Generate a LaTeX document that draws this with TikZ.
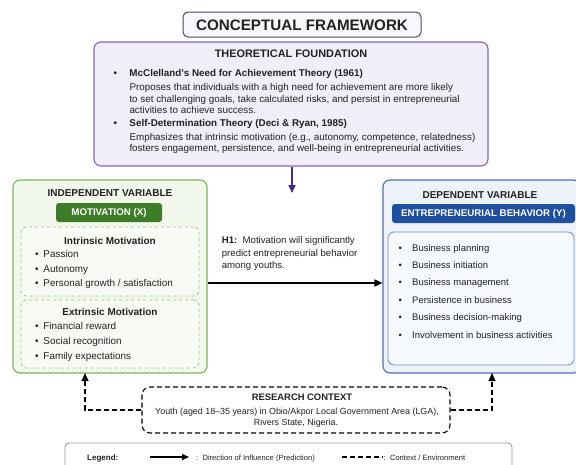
\documentclass[tikz,border=0pt]{standalone}
\usepackage{fontspec}
\setmainfont{Liberation Sans}
\usetikzlibrary{arrows.meta}
\definecolor{purpB}{HTML}{8466BE}
\definecolor{purpF}{HTML}{F1EDF9}
\definecolor{purpA}{HTML}{4A2B8C}
\definecolor{titleB}{HTML}{4A4A66}
\definecolor{titleF}{HTML}{F8F7FC}
\definecolor{grnB}{HTML}{7CB35B}
\definecolor{grnF}{HTML}{F2F8EC}
\definecolor{grnD}{HTML}{3D7D28}
\definecolor{grnI}{HTML}{9CC682}
\definecolor{grnIF}{HTML}{F8FBF5}
\definecolor{bluB}{HTML}{4A6FBF}
\definecolor{bluF}{HTML}{EEF3FB}
\definecolor{bluD}{HTML}{1F4F9F}
\definecolor{bluI}{HTML}{6A8CCF}
\definecolor{bluIF}{HTML}{F6F9FE}
\definecolor{txt}{HTML}{222222}
\tikzset{
  box/.style={draw, rounded corners=7pt, line width=1.1pt, inner sep=0pt},
  tagbox/.style={rounded corners=3pt, inner sep=0pt, text=white, font=\fontsize{9.7}{10}\selectfont\bfseries},
  hdr/.style={font=\fontsize{10}{10}\selectfont\bfseries, text=txt, inner sep=0pt},
  line/.style={anchor=base west, inner sep=0pt, text=txt, font=\fontsize{9.85}{10}\selectfont},
  bline/.style={line, font=\fontsize{9.85}{10}\selectfont\bfseries},
  lline/.style={line, font=\fontsize{9.9}{10}\selectfont},
  rline/.style={line, font=\fontsize{9.5}{10}\selectfont},
  ctx/.style={draw=black, line width=1.1pt, dash pattern=on 5pt off 3pt},
  tip/.style={-{Triangle[length=8pt,width=7pt]}},
}
\newcommand{\bl}[2]{\makebox[#1][l]{\textbullet}#2}
\begin{document}
\begin{tikzpicture}[x=1pt,y=-1pt]
\useasboundingbox (0,0) rectangle (576,464);
\clip (0,0) rectangle (576,464);
\fill[white] (0,0) rectangle (576,464);

% title
\node[box, draw=titleB, fill=titleF, rounded corners=5pt, line width=1pt, minimum width=238pt, minimum height=25pt] (title) at (302,24.5) {};
\node[font=\fontsize{15.2}{15}\selectfont\bfseries, text=txt, inner sep=0pt] (titletxt) at (302,25) {CONCEPTUAL FRAMEWORK};

% theory
\node[box, draw=purpB, fill=purpF, minimum width=394pt, minimum height=124pt] (theory) at (291,104) {};
\node[font=\fontsize{10.9}{11}\selectfont\bfseries, text=txt, inner sep=0pt] (thtitle) at (291,53.5) {THEORETICAL FOUNDATION};
\node[bline] (th1) at (113.5,76.5) {\bl{15.8pt}{McClelland's Need for Achievement Theory (1961)}};
\node[line] (th1a) at (129.3,90.5) {Proposes that individuals with a high need for achievement are more likely};
\node[line] (th1b) at (129.3,102) {to set challenging goals, take calculated risks, and persist in entrepreneurial};
\node[line] (th1c) at (129.3,113.3) {activities to achieve success.};
\node[bline] (th2) at (113.5,126.5) {\bl{15.8pt}{Self-Determination Theory (Deci \& Ryan, 1985)}};
\node[line] (th2a) at (129.3,140) {Emphasizes that intrinsic motivation (e.g., autonomy, competence, relatedness)};
\node[line] (th2b) at (129.3,151.3) {fosters engagement, persistence, and well-being in entrepreneurial activities.};
\coordinate (thend) at (292,193);
\draw[tip, draw=purpA, line width=1.6pt] (theory.south -| thend) -- (thend);

% independent variable
\node[box, draw=grnB, fill=grnF, minimum width=194pt, minimum height=193pt] (left) at (110,276.5) {};
\node[hdr] (ivh) at (110,193) {INDEPENDENT VARIABLE};
\node[tagbox, fill=grnD, minimum width=106pt, minimum height=19pt] (mot) at (109,212.5) {MOTIVATION (X)};
\node[draw=grnI, fill=grnIF, dashed, rounded corners=5pt, line width=0.8pt, minimum width=178pt, minimum height=69pt, inner sep=0pt] (intr) at (110,261.5) {};
\node[hdr] (intrh) at (110,240.5) {Intrinsic Motivation};
\node[lline] (i1) at (35,257.3) {\bl{8.3pt}{Passion}};
\node[lline] (i2) at (35,272) {\bl{8.3pt}{Autonomy}};
\node[lline] (i3) at (35,286.3) {\bl{8.3pt}{Personal growth / satisfaction}};
\node[draw=grnI, fill=grnIF, dashed, rounded corners=5pt, line width=0.8pt, minimum width=178pt, minimum height=68pt, inner sep=0pt] (extr) at (110,334) {};
\node[hdr] (extrh) at (110,312) {Extrinsic Motivation};
\node[lline] (e1) at (35,329) {\bl{8.3pt}{Financial reward}};
\node[lline] (e2) at (35,344.7) {\bl{8.3pt}{Social recognition}};
\node[lline] (e3) at (35,359) {\bl{8.3pt}{Family expectations}};

% dependent variable
\node[box, draw=bluB, fill=bluF, minimum width=197pt, minimum height=193pt] (right) at (481.5,276.5) {};
\node[hdr] (dvh) at (480,195) {DEPENDENT VARIABLE};
\node[tagbox, fill=bluD, minimum width=183pt, minimum height=19pt] (eb) at (483.5,213.5) {ENTREPRENEURIAL BEHAVIOR (Y)};
\node[draw=bluI, fill=bluIF, rounded corners=6pt, line width=0.8pt, minimum width=186pt, minimum height=133pt, inner sep=0pt] (dvin) at (481,298.5) {};
\node[rline] (d1) at (398.4,251.3) {\bl{13.6pt}{Business planning}};
\node[rline] (d2) at (398.4,268.7) {\bl{13.6pt}{Business initiation}};
\node[rline] (d3) at (398.4,285.7) {\bl{13.6pt}{Business management}};
\node[rline] (d4) at (398.4,303) {\bl{13.6pt}{Persistence in business}};
\node[rline] (d5) at (398.4,320.7) {\bl{13.6pt}{Business decision-making}};
\node[rline] (d6) at (398.4,338) {\bl{13.6pt}{Involvement in business activities}};

% hypothesis
\node[rline, font=\fontsize{9.6}{10}\selectfont] (h1a) at (221.7,243) {\textbf{H1:}\ \ Motivation will significantly};
\node[rline, font=\fontsize{9.6}{10}\selectfont] (h1b) at (221.7,256.3) {predict entrepreneurial behavior};
\node[rline, font=\fontsize{9.6}{10}\selectfont] (h1c) at (221.7,268) {among youths.};
\coordinate (h1y) at (0,283);
\draw[tip, line width=1.5pt] (left.east |- h1y) -- (right.west |- h1y);

% research context
\node[ctx, fill=white, rounded corners=8pt, minimum width=308pt, minimum height=46pt, inner sep=0pt] (context) at (296,410) {};
\node[hdr, font=\fontsize{9.4}{10}\selectfont\bfseries] (ctxh) at (302,397.5) {RESEARCH CONTEXT};
\node[inner sep=0pt, text=txt, font=\fontsize{8.9}{10}\selectfont] (ctx1) at (297,412) {Youth (aged 18--35 years) in Obio/Akpor Local Government Area (LGA),};
\node[inner sep=0pt, text=txt, font=\fontsize{8.9}{10}\selectfont] (ctx2) at (296,423.5) {Rivers State, Nigeria.};
\coordinate (cl) at (85,373);
\coordinate (cr) at (492,373);
\draw[ctx, tip] (context.west) -| (cl);
\draw[ctx, tip] (context.east) -| (cr);

% legend
\node[draw=gray!80, fill=white, rounded corners=4pt, line width=0.9pt, minimum width=447pt, minimum height=30pt, inner sep=0pt] (legend) at (288.5,458) {};
\node[anchor=base west, inner sep=0pt, text=txt, font=\fontsize{8}{9}\selectfont\bfseries] (lg) at (87,460) {Legend:};
\coordinate (la1) at (150,457);
\coordinate (la2) at (189,457);
\draw[line width=1.4pt, -{Triangle[length=7pt,width=6pt]}] (la1) -- (la2);
\node[anchor=base west, inner sep=0pt, text=txt, font=\fontsize{7.6}{9}\selectfont] (lg1) at (196,460) {:\ \ Direction of Influence (Prediction)};
\coordinate (ld1) at (342,457);
\coordinate (ld2) at (383,457);
\draw[line width=1.4pt, dash pattern=on 5pt off 3pt] (ld1) -- (ld2);
\node[anchor=base west, inner sep=0pt, text=txt, font=\fontsize{7.6}{9}\selectfont] (lg2) at (383.5,460) {:\ \ Context / Environment};
\end{tikzpicture}
\end{document}
